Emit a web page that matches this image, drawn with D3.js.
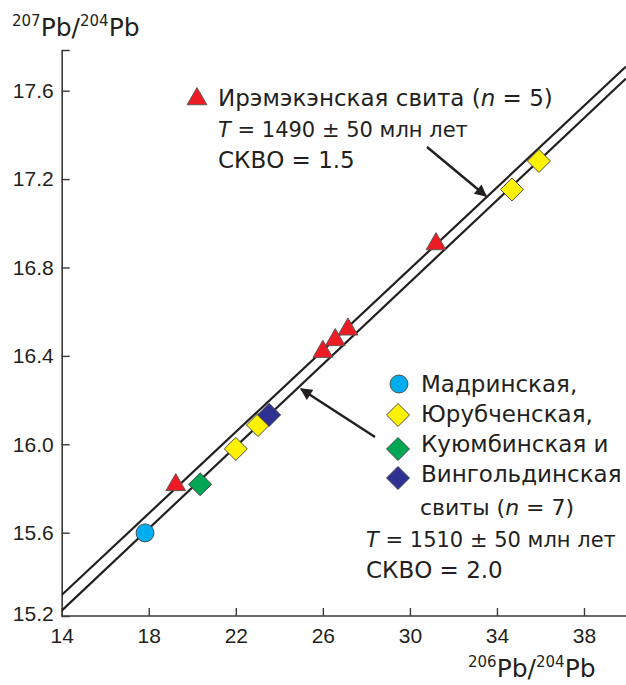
<!DOCTYPE html>
<html><head><meta charset="utf-8">
<script src="https://cdn.jsdelivr.net/npm/d3@7"></script>
<style>body{margin:0;background:#fff}svg{display:block}svg text{font-family:"DejaVu Sans",sans-serif;fill:#231f20}</style>
</head><body>
<script>
// ---- data ----
const xTicks = [14, 18, 22, 26, 30, 34, 38];
const yTicks = [15.6, 16.0, 16.4, 16.8, 17.2, 17.6];
const yBottomLabel = "15.2";
// Ирэмэкэнская свита (triangles)
const iremX = [19.24, 26.0, 26.57, 27.15, 31.2];
const iremY = [15.816, 16.419, 16.472, 16.520, 16.906];
// Мадринская (circle)
const madrX = [17.83];
const madrY = [15.599];
// Юрубченская (yellow diamonds)
const yurX = [22.0, 23.02, 34.69, 35.93];
const yurY = [15.979, 16.087, 17.153, 17.282];
// Куюмбинская (green diamond)
const kuyX = [20.36];
const kuyY = [15.819];
// Вингольдинская (navy diamond)
const vinX = [23.53];
const vinY = [16.133];
// isochron lines: [x0, y0, x1, y1]
const isoUpper = [14, 15.318, 39.93, 17.709];
const isoLower = [14, 15.247, 39.93, 17.655];

const W = 626, H = 685;
const svg = d3.select("body").append("svg").attr("width", W).attr("height", H);
const x = d3.scaleLinear().domain([14, 39.93]).range([61.7, 626]);
const y = d3.scaleLinear().domain([15.223, 17.784]).range([616, 50]);
const axisColor = "#3a3a3a";
const tickFont = '"Liberation Sans",Arial,sans-serif';

// axes
const xAxis = svg.append("g").attr("transform", `translate(0,${y.range()[0]})`)
  .call(d3.axisBottom(x).tickValues(xTicks).tickSize(-8).tickPadding(10).tickFormat(d3.format("d")));
xAxis.select(".domain").attr("d", `M${x.range()[0]},0H${W}`);
const yAxis = svg.append("g").attr("transform", `translate(${x.range()[0]},0)`)
  .call(d3.axisLeft(y).tickValues(yTicks).tickSize(-8).tickPadding(8).tickFormat(d3.format(".1f")));
[xAxis, yAxis].forEach(g => {
  g.selectAll(".domain").attr("stroke", axisColor).attr("stroke-width", 1.6);
  g.selectAll(".tick line").attr("stroke", axisColor).attr("stroke-width", 1.4);
  g.selectAll(".tick text").style("font-size", "21px").style("font-family", tickFont).attr("fill", "#231f20");
});
xAxis.selectAll(".tick text").attr("dy", "0.8em");
yAxis.append("text").attr("x", -8).attr("y", y.range()[0]).attr("dy", "0.25em")
  .attr("text-anchor", "end").style("font-size", "21px").style("font-family", tickFont)
  .attr("fill", "#231f20").text(yBottomLabel);

// axis titles
function pbLabel(xp, yp, a, b) {
  const t = svg.append("text").attr("x", xp).attr("y", yp).style("font-size", "25px");
  t.append("tspan").text(a).style("font-size", "15px").attr("dy", "-10");
  t.append("tspan").text("Pb/").attr("dy", "10");
  t.append("tspan").text(b).style("font-size", "15px").attr("dy", "-10");
  t.append("tspan").text("Pb").attr("dy", "10");
}
pbLabel(12, 36, "207", "204");
pbLabel(468, 677, "206", "204");

// isochron lines
svg.append("clipPath").attr("id", "pc").append("rect")
  .attr("x", x.range()[0]).attr("y", y.range()[1]).attr("width", W - x.range()[0]).attr("height", y.range()[0] - y.range()[1]);
[isoUpper, isoLower].forEach(l => {
  svg.append("line").attr("clip-path", "url(#pc)")
    .attr("x1", x(l[0])).attr("y1", y(l[1])).attr("x2", x(l[2])).attr("y2", y(l[3]))
    .attr("stroke", "#231f20").attr("stroke-width", 2.2);
});

// markers
const triSym = d3.symbol().type(d3.symbolTriangle).size(170);
const diaSym = d3.symbol().type(d3.symbolSquare).size(265);
function tri(xs, ys, col) {
  svg.append("g").selectAll("path").data(xs).join("path")
    .attr("d", triSym).attr("transform", (d, i) => `translate(${x(d)},${y(ys[i])})`)
    .attr("fill", col).attr("stroke", "#555").attr("stroke-width", 0.9);
}
function dia(xs, ys, col) {
  svg.append("g").selectAll("path").data(xs).join("path")
    .attr("d", diaSym).attr("transform", (d, i) => `translate(${x(d)},${y(ys[i])}) rotate(45)`)
    .attr("fill", col).attr("stroke", "#444").attr("stroke-width", 0.9);
}
const cRed = "#ed1c24", cBlue = "#00aeef", cYel = "#fff200", cGreen = "#00a651", cNavy = "#2e3192";
svg.append("g").selectAll("circle").data(madrX).join("circle")
  .attr("cx", d => x(d)).attr("cy", (d, i) => y(madrY[i])).attr("r", 9)
  .attr("fill", cBlue).attr("stroke", "#444").attr("stroke-width", 0.9);
dia(kuyX, kuyY, cGreen);
dia(yurX, yurY, cYel);
dia(vinX, vinY, cNavy);
tri(iremX, iremY, cRed);

// annotations
function txt(xp, yp, parts, size) {
  const t = svg.append("text").attr("x", xp).attr("y", yp).style("font-size", (size || 23) + "px");
  parts.forEach(p => {
    const s = t.append("tspan").text(p[0]);
    if (p[1]) s.style("font-style", "italic");
  });
  return t;
}
// top legend
svg.append("path").attr("d", triSym).attr("transform", "translate(197,99)")
  .attr("fill", cRed).attr("stroke", "#555").attr("stroke-width", 0.9);
txt(218, 106, [["Ирэмэкэнская свита ("], ["n", 1], [" = 5)"]]);
txt(218, 137, [["T", 1], [" = 1490 ± 50 млн лет"]], 21);
txt(218, 168, [["СКВО = 1.5"]]);

// bottom legend
svg.append("circle").attr("cx", 399).attr("cy", 384).attr("r", 9)
  .attr("fill", cBlue).attr("stroke", "#444").attr("stroke-width", 0.9);
[[415, cYel], [449, cGreen], [478, cNavy]].forEach(d => {
  svg.append("path").attr("d", diaSym).attr("transform", `translate(398,${d[0]}) rotate(45)`)
    .attr("fill", d[1]).attr("stroke", "#444").attr("stroke-width", 0.9);
});
txt(421, 392, [["Мадринская,"]]);
txt(421, 422, [["Юрубченская,"]]);
txt(421, 452, [["Куюмбинская и"]]);
txt(421, 482, [["Вингольдинская"]]);
txt(420, 515, [["свиты ("], ["n", 1], [" = 7)"]], 22);
txt(366, 547, [["T", 1], [" = 1510 ± 50 млн лет"]], 21);
txt(366, 578, [["СКВО = 2.0"]]);

// arrows
const defs = svg.append("defs");
defs.append("marker").attr("id", "ah").attr("viewBox", "0 0 10 10").attr("refX", 9).attr("refY", 5)
  .attr("markerWidth", 6).attr("markerHeight", 5).attr("markerUnits", "strokeWidth").attr("orient", "auto")
  .append("path").attr("d", "M0,0L10,5L0,10z").attr("fill", "#231f20");
[[427, 147, 486, 196], [375, 437, 301, 389]].forEach(a => {
  svg.append("line").attr("x1", a[0]).attr("y1", a[1]).attr("x2", a[2]).attr("y2", a[3])
    .attr("stroke", "#231f20").attr("stroke-width", 2.4).attr("marker-end", "url(#ah)");
});
</script>
</body></html>
